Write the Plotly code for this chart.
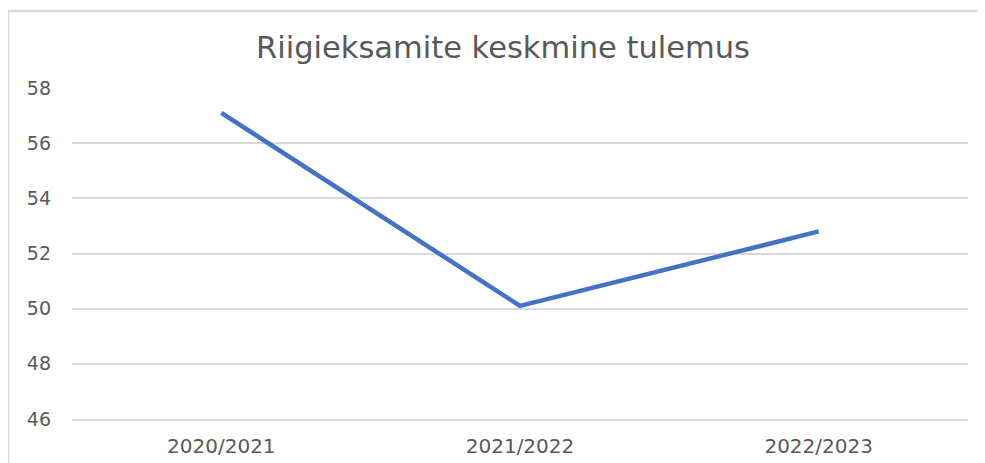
import plotly.graph_objects as go

aastad = ["2020/2021", "2021/2022", "2022/2023"]
tulemus = [57.1, 50.1, 52.8]
y_ticks = [46, 48, 50, 52, 54, 56, 58]

W, H = 985, 463
# the page body adds an 8px offset, so margins are shifted by that
ml, mr, mt, mb = 64, 25, 80, 52

fig = go.Figure()
fig.add_trace(go.Scatter(
    x=aastad, y=tulemus, mode="lines",
    line=dict(color="#4472C4", width=4.5),
    hoverinfo="x+y", cliponaxis=False,
))

# chart border (left and top edge of the Excel chart frame)
pw = W - ml - mr
ph = H - mt - mb
bx = (0 - ml) / pw
by = (H - 3 - mb) / ph
fig.add_shape(type="line", xref="paper", yref="paper",
              x0=bx, x1=bx, y0=-(mb + 10) / ph, y1=by,
              line=dict(color="#d9d9d9", width=2.5), layer="below")
fig.add_shape(type="line", xref="paper", yref="paper",
              x0=bx, x1=(W + 10 - ml) / pw, y0=by, y1=by,
              line=dict(color="#d9d9d9", width=2.5), layer="below")

fig.update_layout(
    width=W, height=H,
    margin=dict(l=ml, r=mr, t=mt, b=mb, autoexpand=False),
    paper_bgcolor="white", plot_bgcolor="white",
    showlegend=False,
    font=dict(family="DejaVu Sans, sans-serif", color="#595959"),
    title=dict(
        text="Riigieksamite keskmine tulemus",
        x=(503 - 8 - ml) / pw, xref="paper", xanchor="center",
        y=1 - 39 / H, yanchor="middle",
        font=dict(size=30.5, color="#595959"),
    ),
)
fig.update_xaxes(
    range=[-0.5, 2.5], automargin=False,
    showgrid=False, zeroline=False,
    showline=True, linecolor="#d9d9d9", linewidth=1.5,
    tickfont=dict(size=20, color="#595959"), ticks="",
    ticklabelstandoff=8,
)
fig.update_yaxes(
    range=[46, 58], tickvals=y_ticks, automargin=False,
    showgrid=True, gridcolor="#d9d9d9", gridwidth=1.5,
    zeroline=False, showline=False,
    tickfont=dict(size=19, color="#595959"), ticks="",
    ticklabelstandoff=20,
)

fig.write_html("out.html")
